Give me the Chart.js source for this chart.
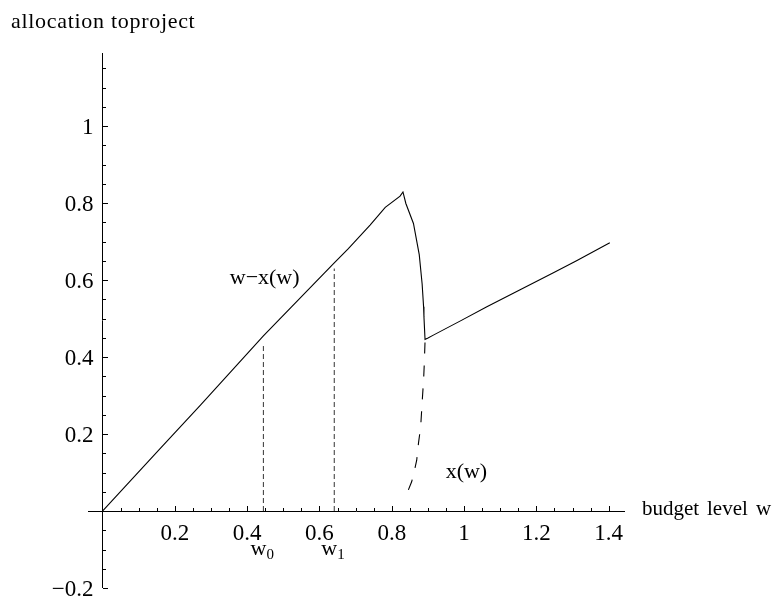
<!DOCTYPE html>
<html>
<head>
<meta charset="utf-8">
<script src="https://cdn.jsdelivr.net/npm/chart.js@4/dist/chart.umd.min.js"></script>
<style>
  html, body { margin: 0; padding: 0; background: #fff; }
  #wrap { width: 778px; height: 600px; }
</style>
</head>
<body>
<div id="wrap"><canvas id="c" width="778" height="600"></canvas></div>
<script>
// Remaining budget w − x(w) as a function of the budget level w
const budgetW   = [0, 0.16, 0.271, 0.445, 0.641, 0.68, 0.74, 0.782, 0.823, 0.831, 0.839, 0.860, 0.876, 0.884, 0.888, 0.889, 0.892, 0.899, 0.915, 0.99, 1.063, 1.155, 1.247, 1.311, 1.403];
const remaining = [0, 0.163, 0.275, 0.455, 0.645, 0.682, 0.743, 0.789, 0.818, 0.829, 0.799, 0.747, 0.666, 0.590, 0.531, 0.505, 0.446, 0.449, 0.457, 0.494, 0.531, 0.575, 0.619, 0.650, 0.697];

// Allocation x(w) to the project once it is funded
const projectW     = [0.846, 0.855, 0.862, 0.869, 0.874, 0.880, 0.885, 0.888, 0.890, 0.892];
const projectAlloc = [0.055, 0.076, 0.102, 0.132, 0.177, 0.219, 0.297, 0.340, 0.384, 0.440];

// Threshold budget levels and the heights of their marker lines
const thresholds      = [0.445, 0.641];
const thresholdTops   = [0.436, 0.630];
const thresholdLabels = ['w', 'w'];
const thresholdSubs   = ['0', '1'];

// Axis ticks
const xTickValues = [0.2, 0.4, 0.6, 0.8, 1, 1.2, 1.4];
const xTickLabels = ['0.2', '0.4', '0.6', '0.8', '1', '1.2', '1.4'];
const yTickValues = [-0.2, 0.2, 0.4, 0.6, 0.8, 1];
const yTickLabels = ['\u22120.2', '0.2', '0.4', '0.6', '0.8', '1'];
const minorStep = 0.05;

const toPoints = (xs, ys) => xs.map((x, i) => ({ x, y: ys[i] }));

const FONT = '"Liberation Serif", "Times New Roman", serif';

function drawText(ctx, str, x, y, size, align, spacing) {
  ctx.save();
  ctx.font = size + 'px ' + FONT;
  ctx.fillStyle = '#000';
  ctx.textAlign = align || 'left';
  ctx.textBaseline = 'alphabetic';
  if (spacing) ctx.letterSpacing = spacing + 'px';
  ctx.fillText(str, x, y);
  ctx.restore();
}

const axesPlugin = {
  id: 'originAxes',
  beforeDatasetsDraw(chart) {
    const { ctx } = chart;
    const xs = chart.scales.x, ys = chart.scales.y;
    const x0 = xs.getPixelForValue(0), y0 = ys.getPixelForValue(0);
    ctx.save();
    ctx.strokeStyle = '#000';
    ctx.lineWidth = 1;
    ctx.beginPath();
    // horizontal axis through y = 0
    ctx.moveTo(xs.left, Math.round(y0) + 0.5);
    ctx.lineTo(xs.right, Math.round(y0) + 0.5);
    // vertical axis through x = 0
    ctx.moveTo(Math.round(x0) + 0.5, ys.top);
    ctx.lineTo(Math.round(x0) + 0.5, ys.bottom);
    ctx.stroke();

    // x ticks (pointing up)
    ctx.beginPath();
    for (let k = 1; k * minorStep <= xs.max + 1e-9; k++) {
      const v = k * minorStep;
      const major = k % 4 === 0;
      const px = Math.round(xs.getPixelForValue(v)) + 0.5;
      ctx.moveTo(px, Math.round(y0));
      ctx.lineTo(px, Math.round(y0) - (major ? 5 : 3));
    }
    // y ticks (pointing right)
    for (let k = -4; k * minorStep <= ys.max + 1e-9; k++) {
      if (k === 0) continue;
      const v = k * minorStep;
      const major = k % 4 === 0;
      const py = Math.round(ys.getPixelForValue(v)) + 0.5;
      ctx.moveTo(Math.round(x0) + 1, py);
      ctx.lineTo(Math.round(x0) + 1 + (major ? 5 : 3), py);
    }
    ctx.stroke();
    ctx.restore();

    // tick labels
    xTickValues.forEach((v, i) => {
      drawText(ctx, xTickLabels[i], xs.getPixelForValue(v), y0 + 29, 23, 'center');
    });
    yTickValues.forEach((v, i) => {
      drawText(ctx, yTickLabels[i], x0 - 9, ys.getPixelForValue(v) + 8, 23, 'right');
    });
  },
  afterDatasetsDraw(chart) {
    const { ctx } = chart;
    const xs = chart.scales.x, ys = chart.scales.y;
    const y0 = ys.getPixelForValue(0);

    // axis titles
    drawText(ctx, 'allocation toproject', 11, 28, 22, 'left', 0.7);
    drawText(ctx, 'budget', xs.right + 17, y0 + 4, 21, 'left');
    drawText(ctx, 'level', xs.right + 82, y0 + 4, 21, 'left');
    drawText(ctx, 'w', xs.right + 131, y0 + 4, 21, 'left');

    // curve labels
    drawText(ctx, 'w\u2212x(w)', xs.getPixelForValue(0.352), ys.getPixelForValue(0.59), 22, 'left');
    drawText(ctx, 'x(w)', xs.getPixelForValue(0.949), ys.getPixelForValue(0.086), 22, 'left');

    // threshold labels below the axis
    thresholds.forEach((t, i) => {
      const px = xs.getPixelForValue(t);
      drawText(ctx, thresholdLabels[i], px - 13, y0 + 44, 22, 'left');
      drawText(ctx, thresholdSubs[i], px + 3, y0 + 48, 15, 'left');
    });
  }
};

const lineStyle = { borderColor: '#000', borderWidth: 1.1, pointRadius: 0, showLine: true, fill: false, tension: 0 };

new Chart(document.getElementById('c'), {
  type: 'scatter',
  data: {
    datasets: [
      Object.assign({ label: 'w\u2212x(w)', data: toPoints(budgetW, remaining) }, lineStyle),
      Object.assign({ label: 'x(w)', data: toPoints(projectW, projectAlloc), borderDash: [11, 12] }, lineStyle),
      ...thresholds.map((t, i) => Object.assign({
        label: 'w' + thresholdSubs[i],
        data: [{ x: t, y: 0 }, { x: t, y: thresholdTops[i] }],
        borderDash: [5, 3]
      }, lineStyle, { borderColor: '#333', borderWidth: 1 }))
    ]
  },
  options: {
    responsive: false,
    animation: false,
    events: [],
    layout: { padding: { left: 88, right: 153, top: 53, bottom: 12 } },
    plugins: { legend: { display: false }, tooltip: { enabled: false } },
    scales: {
      x: { type: 'linear', min: -0.04, max: 1.445, display: false },
      y: { type: 'linear', min: -0.2, max: 1.19, display: false }
    }
  },
  plugins: [axesPlugin]
});
</script>
</body>
</html>
